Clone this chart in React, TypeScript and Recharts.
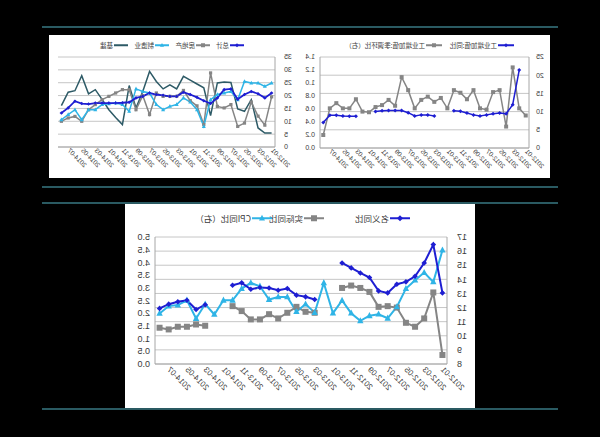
import React from 'react';
import { LineChart, Line, XAxis, YAxis, CartesianGrid } from 'recharts';

// months shown on every chart (labels every second month)
const months = [
  '2012-01', '2012-02', '2012-03', '2012-04', '2012-05', '2012-06', '2012-07', '2012-08',
  '2012-09', '2012-10', '2012-11', '2012-12', '2013-01', '2013-02', '2013-03', '2013-04',
  '2013-05', '2013-06', '2013-07', '2013-08', '2013-09', '2013-10', '2013-11', '2013-12',
  '2014-01', '2014-02', '2014-03', '2014-04', '2014-05', '2014-06', '2014-07', '2014-08',
];

// chart 1: industrial output
const ipYoy = [
  null, 21.4, 11.9, 9.4, 9.6, 9.4, 9.1, 8.8, 9.1, 9.6, 10.1, 10.2, null, null, 8.8, 9.1,
  9.1, 8.8, 9.7, 10.3, 10.3, 10.3, 10.2, 10.0, null, null, 8.7, 8.7, 8.8, 9.0, 9.0, 7.0,
];
const ipMom = [
  0.5, 0.61, 1.24, 0.33, 0.89, 0.86, 0.59, 0.61, 0.89, 0.75, 0.85, 0.89, 0.61, 0.77, 0.71, 0.79,
  0.74, 0.61, 0.89, 1.09, 0.65, 0.74, 0.66, 0.63, 0.55, 0.56, 0.75, 0.61, 0.61, 0.69, 0.61, 0.2,
];
const ipTicksLeft = [0, 5, 10, 15, 20, 25];
const ipTicksRight = [0, 0.2, 0.4, 0.6, 0.8, 1.0, 1.2, 1.4];

// chart 2: investment
const faiTotal = [
  21.0, 19.1, 20.7, 21.6, 20.4, 18.6, 22.6, 22.3, 19.1, 16.9, 18.0, 19.3, 20.4, 21.3, 19.7, 19.7,
  20.1, 20.4, 21.0, 19.7, 19.1, 17.4, 17.2, 17.1, 17.1, 17.1, 17.1, 16.7, 16.9, 17.8, 15.2, 13.2,
];
const faiRealty = [
  19.5, 8.5, 12.0, 17.5, 9.3, 8.0, 16.5, 15.2, 15.8, 28.8, 8.7, 16.0, 18.0, 22.0, 19.7, 19.7,
  19.7, 21.0, 12.6, 20.0, 14.5, 22.3, 22.3, 21.0, 19.7, 18.4, 16.5, 14.5, 10.0, 11.9, 11.3, 10.0,
];
const faiManu = [
  24.9, 23.6, 24.9, 24.9, 25.5, 18.4, 21.6, 21.0, 20.4, 18.4, 8.0, 14.5, 17.5, 19.1, 16.5, 15.8,
  14.5, 16.5, 21.0, 21.6, 22.6, 13.9, 16.5, 17.1, 16.8, 16.5, 14.5, 14.5, 10.6, 14.5, 12.6, 10.6,
];
const faiInfra = [
  5.4, 5.4, 7.4, 18.4, 13.9, 14.8, 25.1, 25.3, 24.9, 12.2, 23.0, 24.5, 26.0, 27.5, 22.6, 24.2,
  22.6, 25.5, 29.4, 21.6, 15.2, 23.9, 8.7, 11.5, 14.5, 18.5, 22.3, 20.7, 27.7, 21.9, 21.3, 16.1,
];
const faiTicks = [0, 5, 10, 15, 20, 25, 30, 35];

// chart 3: nominal / real / CPI
const nominalYoy = [
  13.04, 16.46, 15.16, 14.22, 13.82, 13.65, 13.04, 13.18, 14.13, 14.45, 14.81, 15.16, null, null, 12.57, 12.76,
  12.88, 13.35, 13.23, 13.39, 13.42, 13.3, 13.75, 13.58, null, null, 12.2, 11.86, 12.52, 12.41, 12.24, 11.94,
];
const realYoy = [
  8.64, 13.07, 11.23, 10.64, 10.92, 12.0, 12.1, 12.05, 13.11, 13.39, 13.56, 13.39, null, null, 11.63, 11.7,
  12.05, 11.63, 11.23, 11.53, 11.16, 11.16, 11.75, 12.1, null, null, 10.71, 10.8, 10.64, 10.64, 10.45, 10.57,
];
const cpiYoy = [
  4.48, 3.23, 3.6, 3.3, 2.97, 2.25, 1.8, 1.96, 1.9, 1.7, 2.0, 2.5, 2.0, 3.19, 2.02, 2.36,
  2.06, 2.64, 2.64, 2.54, 3.06, 3.19, 2.97, 2.51, 2.51, 1.95, 2.36, 1.79, 2.51, 2.32, 2.28, 1.99,
];
const incTicksLeft = [8, 9, 10, 11, 12, 13, 14, 15, 16, 17];
const incTicksRight = [0, 0.5, 1, 1.5, 2, 2.5, 3, 3.5, 4, 4.5, 5];

const BLUE = '#1e1ed2';
const CYAN = '#2fb4e6';
const GRAY = '#858585';
const DARK = '#2d5a66';
const GRID = '#c6c6c6';
const AXIS = '#a6a6a6';
const TEXT = '#3a3a3a';
const NUM_FONT = '"Liberation Sans", Arial, sans-serif';
const CJK_FONT = '"Noto Sans CJK SC", sans-serif';

const ipRows = months.map((m, i) => ({ month: m, yoy: ipYoy[i], mom: ipMom[i] }));
const faiRows = months.map((m, i) => ({
  month: m, total: faiTotal[i], realty: faiRealty[i], manu: faiManu[i], infra: faiInfra[i],
}));
const incRows = months.map((m, i) => ({ month: m, nominal: nominalYoy[i], real: realYoy[i], cpi: cpiYoy[i] }));

type Shape = 'diamond' | 'square' | 'triangle';

function drawShape(shape: Shape, cx: number, cy: number, s: number, color: string, key?: any) {
  if (shape === 'diamond') {
    return <path key={key} d={`M${cx},${cy - s}L${cx + s},${cy}L${cx},${cy + s}L${cx - s},${cy}Z`} fill={color} />;
  }
  if (shape === 'square') {
    return <rect key={key} x={cx - s} y={cy - s} width={s * 2} height={s * 2} fill={color} />;
  }
  return <path key={key} d={`M${cx},${cy - s * 1.15}L${cx + s},${cy + s * 0.75}L${cx - s},${cy + s * 0.75}Z`} fill={color} />;
}

const marker = (shape: Shape, color: string, s: number) => (props: any) => {
  const { cx, cy, index, value } = props;
  if (value == null || typeof cy !== 'number' || isNaN(cy)) return <g key={`n${index}`} />;
  return drawShape(shape, cx, cy, s, color, `m${index}`);
};

const xTick = (fs: number, ox: number, oy: number) => (props: any) => {
  const { x, y, payload } = props;
  const ax = x + ox;
  const ay = y + oy;
  return (
    <text x={ax} y={ay} transform={`rotate(-45 ${ax} ${ay})`} textAnchor="end"
      fontSize={fs} fill={TEXT} fontFamily={NUM_FONT}>
      {payload.value}
    </text>
  );
};

interface LegendEntry { label: string; color: string; shape?: Shape; x: number; }

const LegendRow = ({ items, top, fs, lineW, s }: { items: LegendEntry[]; top: number; fs: number; lineW: number; s: number }) => (
  <>
    {items.map((it) => (
      <div key={it.label} style={{ position: 'absolute', left: it.x, top, height: fs + 4, display: 'flex', alignItems: 'center', whiteSpace: 'nowrap' }}>
        <svg width={lineW} height={fs + 4} style={{ display: 'block' }}>
          <line x1={0} x2={lineW} y1={(fs + 4) / 2} y2={(fs + 4) / 2} stroke={it.color} strokeWidth={2} />
          {it.shape && drawShape(it.shape, lineW / 2, (fs + 4) / 2, s, it.color)}
        </svg>
        <span style={{ fontFamily: CJK_FONT, fontSize: fs, color: TEXT, marginLeft: 1, lineHeight: 1 }}>{it.label}</span>
      </div>
    ))}
  </>
);

const Rule = ({ top }: { top: number }) => (
  <div style={{ position: 'absolute', left: 42, top, width: 516, height: 2, background: '#2a5a62' }} />
);

export default function App() {
  // plot widths, used to centre each point in its month slot
  const ipPad = 209 / 32 / 2;
  const faiPad = 217 / 32 / 2;
  const incPad = 292 / 32 / 2;

  return (
    <div style={{ position: 'absolute', left: 0, top: 0, width: 600, height: 437, background: '#000', overflow: 'hidden', transform: 'scaleX(-1)' }}>
      <Rule top={26} />
      <Rule top={186} />
      <Rule top={202} />
      <Rule top={408} />

      <div style={{ position: 'absolute', left: 50, top: 35, width: 501, height: 143, background: '#fff' }} />
      <div style={{ position: 'absolute', left: 125, top: 204, width: 350, height: 204, background: '#fff' }} />

      {/* industrial output */}
      <div style={{ position: 'absolute', left: 50, top: 35 }}>
        <LineChart width={251} height={143} data={ipRows} margin={{ top: 22, right: 0, bottom: 0, left: 0 }}>
          <CartesianGrid yAxisId="l" vertical={false} stroke={GRID} />
          <XAxis dataKey="month" interval={1} height={30} padding={{ left: ipPad, right: ipPad }}
            tickLine={false} tickSize={0} tickMargin={0} stroke={AXIS} tick={xTick(6.5, 1, 4)} />
          <YAxis yAxisId="l" orientation="left" width={21} domain={[0, 25]} ticks={ipTicksLeft} interval={0}
            tickLine={false} tickSize={0} tickMargin={7} stroke={AXIS}
            tick={{ fontSize: 7, fill: TEXT, fontFamily: NUM_FONT }} />
          <YAxis yAxisId="r" orientation="right" width={21} domain={[0, 1.4]} ticks={ipTicksRight} interval={0}
            tickLine={false} tickSize={0} tickMargin={5} stroke={AXIS}
            tickFormatter={(v: number) => v.toFixed(1)}
            tick={{ fontSize: 7, fill: TEXT, fontFamily: NUM_FONT }} />
          <Line yAxisId="r" dataKey="mom" stroke={GRAY} strokeWidth={1.5} dot={marker('square', GRAY, 2)} isAnimationActive={false} />
          <Line yAxisId="l" dataKey="yoy" stroke={BLUE} strokeWidth={1.5} dot={marker('diamond', BLUE, 2)} isAnimationActive={false} />
        </LineChart>
      </div>
      <LegendRow top={40} fs={6.5} lineW={16} s={2}
        items={[
          { label: '工业增加值:同比', color: BLUE, shape: 'diamond', x: 86 },
          { label: '工业增加值:季调环比（右）', color: GRAY, shape: 'square', x: 158 },
        ]} />

      {/* investment */}
      <div style={{ position: 'absolute', left: 301, top: 35 }}>
        <LineChart width={250} height={143} data={faiRows} margin={{ top: 22, right: 9, bottom: 0, left: 0 }}>
          <CartesianGrid vertical={false} stroke={GRID} />
          <XAxis dataKey="month" interval={1} height={31} padding={{ left: faiPad, right: faiPad }}
            tickLine={false} tickSize={0} tickMargin={0} stroke={AXIS} tick={xTick(6.5, 1, 4)} />
          <YAxis width={24} domain={[0, 35]} ticks={faiTicks} interval={0}
            tickLine={false} tickSize={0} tickMargin={9} stroke={AXIS}
            tick={{ fontSize: 7, fill: TEXT, fontFamily: NUM_FONT }} />
          <Line dataKey="infra" stroke={DARK} strokeWidth={1.5} dot={false} isAnimationActive={false} />
          <Line dataKey="realty" stroke={GRAY} strokeWidth={1.5} dot={marker('square', GRAY, 1.6)} isAnimationActive={false} />
          <Line dataKey="manu" stroke={CYAN} strokeWidth={1.5} dot={marker('triangle', CYAN, 2)} isAnimationActive={false} />
          <Line dataKey="total" stroke={BLUE} strokeWidth={1.8} dot={marker('diamond', BLUE, 1.8)} isAnimationActive={false} />
        </LineChart>
      </div>
      <LegendRow top={40} fs={6.5} lineW={14} s={2}
        items={[
          { label: '总计', color: BLUE, shape: 'diamond', x: 356 },
          { label: '房地产', color: GRAY, shape: 'square', x: 390 },
          { label: '制造业', color: CYAN, shape: 'triangle', x: 431 },
          { label: '基建', color: DARK, x: 472 },
        ]} />

      {/* nominal / real / CPI */}
      <div style={{ position: 'absolute', left: 125, top: 204 }}>
        <LineChart width={350} height={204} data={incRows} margin={{ top: 33, right: 0, bottom: 0, left: 0 }}>
          <CartesianGrid yAxisId="l" vertical={false} stroke={GRID} />
          <XAxis dataKey="month" interval={1} height={44} padding={{ left: incPad, right: incPad }}
            tickLine={false} tickSize={0} tickMargin={0} stroke={AXIS} tick={xTick(8, 2, 6)} />
          <YAxis yAxisId="l" orientation="left" width={28} domain={[8, 17]} ticks={incTicksLeft} interval={0}
            tickLine={false} tickSize={0} tickMargin={10} stroke={AXIS}
            tick={{ fontSize: 9, fill: TEXT, fontFamily: NUM_FONT }} />
          <YAxis yAxisId="r" orientation="right" width={30} domain={[0, 5]} ticks={incTicksRight} interval={0}
            tickLine={false} tickSize={0} tickMargin={5} stroke={AXIS}
            tickFormatter={(v: number) => v.toFixed(1)}
            tick={{ fontSize: 9, fill: TEXT, fontFamily: NUM_FONT }} />
          <Line yAxisId="l" dataKey="real" stroke={GRAY} strokeWidth={2} dot={marker('square', GRAY, 3)} isAnimationActive={false} />
          <Line yAxisId="r" dataKey="cpi" stroke={CYAN} strokeWidth={2} dot={marker('triangle', CYAN, 3.2)} isAnimationActive={false} />
          <Line yAxisId="l" dataKey="nominal" stroke={BLUE} strokeWidth={2} dot={marker('diamond', BLUE, 2.8)} isAnimationActive={false} />
        </LineChart>
      </div>
      <LegendRow top={212} fs={8.5} lineW={20} s={3}
        items={[
          { label: '名义同比', color: BLUE, shape: 'diamond', x: 190 },
          { label: '实际同比', color: GRAY, shape: 'square', x: 276 },
          { label: 'CPI同比（右）', color: CYAN, shape: 'triangle', x: 328 },
        ]} />
    </div>
  );
}
